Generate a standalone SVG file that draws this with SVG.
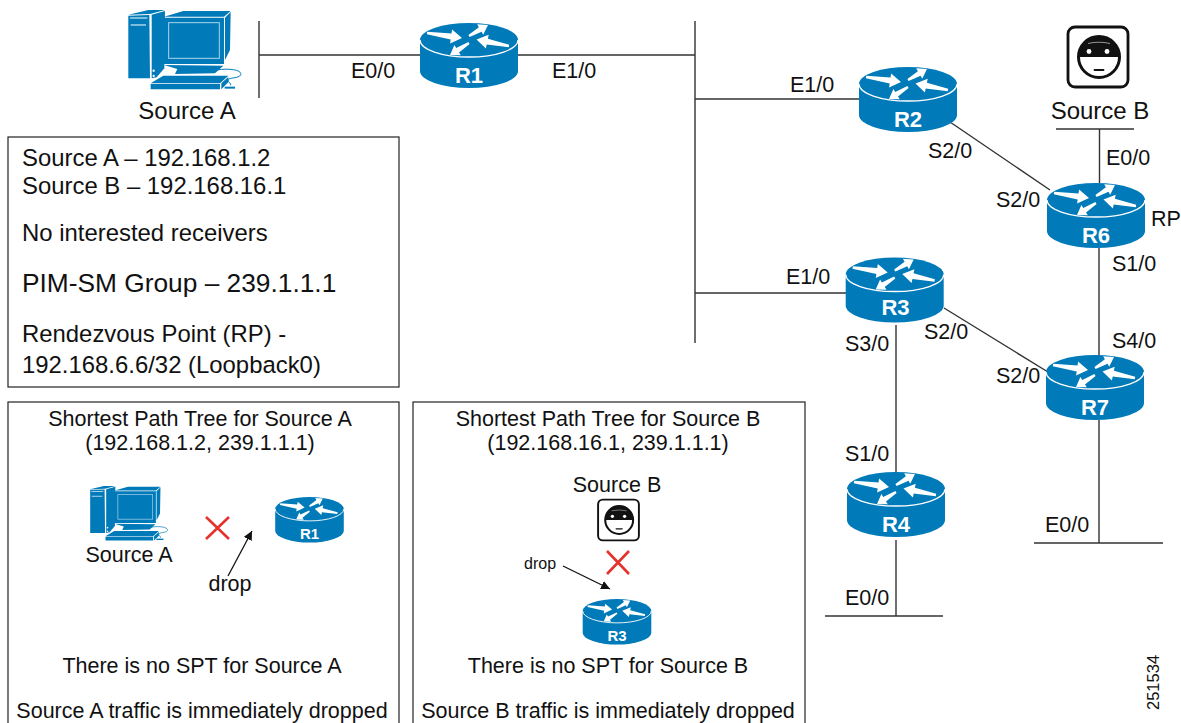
<svg xmlns="http://www.w3.org/2000/svg" width="1181" height="723" viewBox="0 0 1181 723">
<style>
text{font-family:"Liberation Sans",Arial,sans-serif;fill:#111;font-size:21.5px}
.c{text-anchor:middle}
.big{font-size:24px}
.inf{font-size:23.9px}
.rl{font-family:"Liberation Sans",Arial,sans-serif;font-weight:bold;fill:#fff;font-size:22px;text-anchor:middle}
.rs{font-size:15px}
.ln{stroke:#333;stroke-width:1.4;fill:none}
.box{fill:none;stroke:#222;stroke-width:1.2}
.x{stroke:#e5322d;stroke-width:2.6;fill:none}
.b{fill:#007ab8}
.w{fill:none;stroke:#fff}
</style>
<defs>
<g id="router">
<path class="b" d="M-49,0 A49,17 0 0 1 49,0 V31 A49,17 0 0 1 -49,31 Z"/>
<path class="w" stroke-width="1.3" d="M-49,0 A49,17 0 0 0 49,0"/>
<g fill="#fff">
<polygon points="-41.8,-8.2 -17.5,-6.5 -16.9,-10.4 -7,-2 -18.9,3.4 -18.3,-.5 -42.2,-5.8"/>
<polygon points=".6,-3 12.6,-8.2 14.2,-5.3 19,-15 8.2,-15.7 9.9,-12.8 -.6,-5"/>
<polygon points="40.2,4.8 18.9,-1.2 19.7,-5.2 7.5,-.5 16.9,8.6 17.7,4.6 39.8,7.2"/>
<polygon points=".6,4 -10,12.5 -8.2,15.3 -19,15 -14.6,5.1 -12.8,7.9 -.6,2"/>
</g>
</g>
<g id="computer">
<polygon class="b" points="85,47 148,45 150,235 85,235"/>
<polygon class="b" points="85,44 145,30 195,30 150,42"/>
<polygon class="b" points="155,44 195,33 193,205 170,232 155,235"/>
<path d="M90,54H142M92,75H138" class="w" stroke-width="3"/>
<circle cx="161" cy="212" r="3.5" fill="#fff"/><circle cx="161" cy="228" r="3.5" fill="#fff"/>
<polygon class="b" points="190,53 372,53 372,192 190,192"/>
<rect x="206" y="68" width="152" height="107" class="b" stroke="#a9d5ec" stroke-width="3"/>
<polygon class="b" points="192,50 250,33 392,33 372,50"/>
<polygon class="b" points="375,53 392,36 390,150 375,180"/>
<polygon class="b" points="192,195 370,197 345,220 225,222 232,207"/>
<polygon class="b" points="152,250 190,227 385,227 360,250"/>
<polygon class="b" points="152,252 360,252 360,268 152,268"/>
<polygon class="b" points="364,250 385,231 385,247 364,268"/>
<path d="M350,210C395,203 428,212 422,225C416,236 385,232 384,240C384,248 395,250 392,256" fill="none" stroke="#007ab8" stroke-width="3"/>
<rect x="374" y="260" width="31" height="6" class="b"/>
</g>
<g id="villain">
<rect x="-30" y="-30" width="60" height="60" rx="7" fill="#fff" stroke="#111" stroke-width="2.8"/>
<circle cx="1" r="20.5" fill="#fff" stroke="#111" stroke-width="3"/>
<path d="M-20,0 A21,21 0 0 1 22,0 Z" fill="#111"/>
<path d="M-10,-13.5 Q1,-16 12,-13.5" fill="none" stroke="#fff" stroke-width="1.1" opacity=".55"/>
<circle cx="-9" cy="-5.5" r="2.4" fill="#fff"/><circle cx="9" cy="-5.5" r="2.4" fill="#fff"/>
<path d="M-3.5,13H5.5" stroke="#111" stroke-width="1.8" stroke-linecap="round"/>
</g>
<marker id="ah" viewBox="0 0 10 10" refX="10" refY="5" markerWidth="9" markerHeight="9" markerUnits="userSpaceOnUse" orient="auto"><path d="M0,0L10,5L0,10Z" fill="#111"/></marker>
</defs>

<g id="connectors" class="ln">
<path d="M259,21V98M259,55H420M518,55H695M695,21V343M695,99H859M695,293H846"/>
<path d="M950,122L1050,190M944,308L1048,372"/>
<path d="M1056,129H1134M1099.5,129V183M1099,248V356M1099,420V543M1034,543H1163"/>
<path d="M896,325V473M896,540V616M825,616H943"/>
</g>

<g id="source-a"><use href="#computer" transform="translate(100,0) scale(.3333)"/><text class="big c" x="187" y="119">Source A</text></g>
<g id="source-b"><use href="#villain" x="1098" y="57"/><text class="big c" x="1100" y="119">Source B</text></g>
<g id="r1"><use href="#router" x="469" y="40"/><text class="rl" x="469" y="83">R1</text></g>
<g id="r2"><use href="#router" x="908" y="84"/><text class="rl" x="908" y="127">R2</text></g>
<g id="r3"><use href="#router" x="894.7" y="274.5"/><text class="rl" x="895.5" y="315">R3</text></g>
<g id="r4"><use href="#router" x="896" y="489"/><text class="rl" x="896" y="532">R4</text></g>
<g id="r6"><use href="#router" x="1096" y="200"/><text class="rl" x="1096" y="243">R6</text></g>
<g id="r7"><use href="#router" x="1095" y="372"/><text class="rl" x="1095" y="415">R7</text></g>

<g id="labels">
<text x="351" y="78">E0/0</text>
<text x="552" y="78">E1/0</text>
<text x="790" y="92">E1/0</text>
<text x="786" y="284">E1/0</text>
<text x="928" y="158">S2/0</text>
<text x="996" y="207">S2/0</text>
<text x="1106" y="165">E0/0</text>
<text x="1151" y="226">RP</text>
<text x="1112" y="271">S1/0</text>
<text x="1112" y="348">S4/0</text>
<text x="924" y="339">S2/0</text>
<text x="996" y="383">S2/0</text>
<text x="845" y="351">S3/0</text>
<text x="845" y="461">S1/0</text>
<text x="1045" y="532">E0/0</text>
<text x="845" y="605">E0/0</text>
<text x="1159" y="710" transform="rotate(-90 1159 710)" style="font-size:16.5px">251534</text>
</g>

<g id="info">
<rect class="box" x="8" y="137" width="391" height="250"/>
<text class="inf" x="22" y="166">Source A – 192.168.1.2</text>
<text class="inf" x="22" y="194">Source B – 192.168.16.1</text>
<text class="inf" x="22" y="241">No interested receivers</text>
<text x="22" y="292" style="font-size:26.3px">PIM-SM Group – 239.1.1.1</text>
<text class="inf" x="22" y="342">Rendezvous Point (RP) -</text>
<text class="inf" x="22" y="373">192.168.6.6/32 (Loopback0)</text>
</g>

<g id="spt-a">
<rect class="box" x="8" y="402" width="391" height="330"/>
<text class="c" x="200" y="426">Shortest Path Tree for Source A</text>
<text class="c" x="200" y="450">(192.168.1.2, 239.1.1.1)</text>
<use href="#computer" transform="translate(70.7,479.1) scale(.229)"/>
<text class="c" x="129" y="562">Source A</text>
<path class="x" d="M206,517L229,539M229,517L206,539"/>
<use href="#router" transform="translate(309.5,509) scale(.7)"/>
<text class="rl rs" x="309.5" y="539">R1</text>
<path d="M228,576L252,531" stroke="#111" stroke-width="1.3" marker-end="url(#ah)"/>
<text class="c" x="230" y="591">drop</text>
<text class="c" x="202" y="673">There is no SPT for Source A</text>
<text class="c" x="202" y="718">Source A traffic is immediately dropped</text>
</g>

<g id="spt-b">
<rect class="box" x="413" y="402" width="392" height="330"/>
<text class="c" x="608" y="426">Shortest Path Tree for Source B</text>
<text class="c" x="608" y="450">(192.168.16.1, 239.1.1.1)</text>
<text class="c" x="617" y="492">Source B</text>
<use href="#villain" transform="translate(618.5,520) scale(.68)"/>
<path class="x" d="M607,551L629,574M629,551L607,574"/>
<text x="524" y="569" style="font-size:16px">drop</text>
<path d="M563,566L610,589" stroke="#111" stroke-width="1.3" marker-end="url(#ah)"/>
<use href="#router" transform="translate(617,611) scale(.7)"/>
<text class="rl rs" x="617" y="641">R3</text>
<text class="c" x="608" y="673">There is no SPT for Source B</text>
<text class="c" x="608" y="718">Source B traffic is immediately dropped</text>
</g>
</svg>
